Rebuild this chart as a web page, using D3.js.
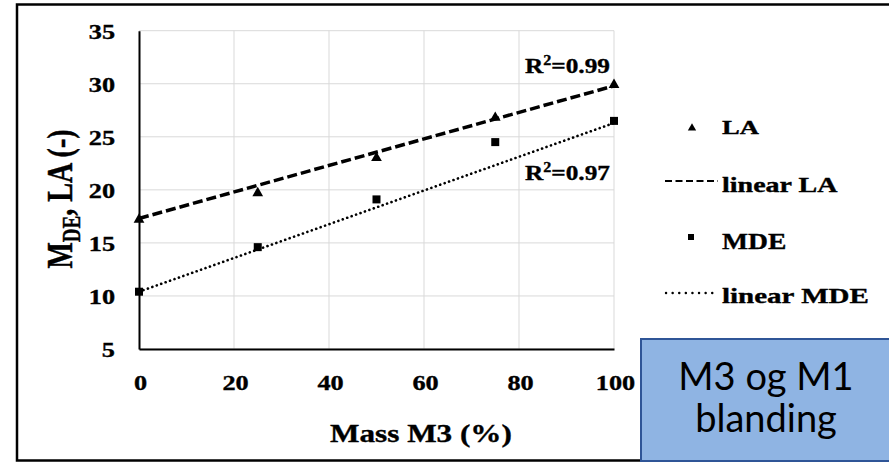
<!DOCTYPE html>
<html><head><meta charset="utf-8">
<script src="https://cdn.jsdelivr.net/npm/d3@7"></script>
<style>body{margin:0;background:#fff}svg{display:block}</style>
</head><body><svg id="c" width="889" height="462"></svg>
<script>
// ---- data ----
const massM3 = [0, 25, 50, 75, 100];
const LA = [17.2, 19.7, 23.0, 26.8, 29.9];
const MDE = [10.4, 14.6, 19.1, 24.5, 26.5];
const trendX = [0, 100];
const trendLA = [17.3, 29.8];
const trendMDE = [10.4, 26.3];
const xTicks = [0, 20, 40, 60, 80, 100];
const yTicks = [5, 10, 15, 20, 25, 30, 35];
const r2LA = "0.99";
const r2MDE = "0.97";
const legendLabels = ["LA", "linear LA", "MDE", "linear MDE"];
const xTitle = "Mass M3 (%)";
const boxLines = ["M3 og M1", "blanding"];

const svg = d3.select("#c");
const serif = "'Liberation Serif','Times New Roman',serif";

// outer frame
svg.append("rect").attr("x", 17).attr("y", 4.5).attr("width", 900).attr("height", 456)
  .attr("fill", "#fff").attr("stroke", "#000").attr("stroke-width", 2.5);

const x = d3.scaleLinear().domain([0, 100]).range([139, 614]);
const y = d3.scaleLinear().domain([5, 35]).range([349, 30.7]);

// gridlines
const grid = svg.append("g").attr("stroke", "#d9d9d9").attr("stroke-width", 1);
grid.selectAll(".h").data(yTicks).join("line")
  .attr("x1", x(0)).attr("x2", x(100)).attr("y1", d => y(d)).attr("y2", d => y(d));
grid.selectAll(".v").data(xTicks.filter(d => d > 0)).join("line")
  .attr("y1", y(5)).attr("y2", y(35)).attr("x1", d => x(d)).attr("x2", d => x(d));

function styleSerif(sel, size) {
  return sel.style("font-family", serif).style("font-weight", "bold").style("font-size", size + "px")
    .attr("fill", "#000").attr("stroke", "#000").attr("stroke-width", 0.35);
}

// axes
const yAx = svg.append("g").attr("transform", `translate(${x(0)},0)`)
  .call(d3.axisLeft(y).tickValues(yTicks).tickSize(0).tickSizeOuter(0).tickFormat(d3.format("d")));
const xAx = svg.append("g").attr("transform", `translate(0,${y(5)})`)
  .call(d3.axisBottom(x).tickValues(xTicks).tickSize(0).tickSizeOuter(0).tickFormat(d3.format("d")));
[yAx, xAx].forEach(a => a.select(".domain").attr("stroke", "#000").attr("stroke-width", 2));
styleSerif(yAx.selectAll("text").attr("x", 0).attr("y", 0).attr("dy", null)
  .attr("text-anchor", "end").attr("transform", `translate(-24,7.5) scale(1.25,1)`), 21);
styleSerif(xAx.selectAll("text").attr("x", 0).attr("y", 0).attr("dy", null)
  .attr("text-anchor", "middle").attr("transform", `translate(1,41) scale(1.25,1)`), 21);

function stext(px, py, sx, size, anchor) {
  return styleSerif(svg.append("text").attr("transform", `translate(${px},${py}) scale(${sx},1)`)
    .attr("text-anchor", anchor), size);
}

// axis titles
stext(421, 442, 1.2, 26, "middle").text(xTitle);
const yt = styleSerif(svg.append("text").attr("transform", `translate(72,199) scale(1.3,1) rotate(-90)`)
  .attr("text-anchor", "middle"), 28);
yt.append("tspan").text("M");
yt.append("tspan").text("DE").style("font-size", "19px").attr("dy", 6);
yt.append("tspan").text(",  LA (-)").attr("dy", -6);

// trend lines
const line = d3.line().x(d => x(d[0])).y(d => y(d[1]));
svg.append("path").datum(trendX.map((v, i) => [v, trendLA[i]])).attr("d", line)
  .attr("fill", "none").attr("stroke", "#000").attr("stroke-width", 3.5).attr("stroke-dasharray", "10,4");
svg.append("path").datum(trendX.map((v, i) => [v, trendMDE[i]])).attr("d", line)
  .attr("fill", "none").attr("stroke", "#000").attr("stroke-width", 2.6)
  .attr("stroke-dasharray", "0.1,4.6").attr("stroke-linecap", "round");

// markers
const tri = d3.symbol().type(d3.symbolTriangle).size(50);
svg.selectAll(".la").data(massM3).join("path")
  .attr("d", tri).attr("transform", (d, i) => `translate(${x(d)},${y(LA[i])})`).attr("fill", "#000");
svg.selectAll(".mde").data(massM3).join("rect")
  .attr("x", d => x(d) - 4).attr("y", (d, i) => y(MDE[i]) - 4).attr("width", 8).attr("height", 8).attr("fill", "#000");

// R² labels
function r2(px, py, val) {
  const t = stext(px, py, 1.15, 22, "start");
  t.append("tspan").text("R");
  t.append("tspan").text("2").style("font-size", "14px").attr("dy", -8);
  t.append("tspan").text("=" + val).attr("dy", 8);
}
r2(525, 73, r2LA);
r2(525, 180, r2MDE);

// legend
svg.append("path").attr("d", d3.symbol().type(d3.symbolTriangle).size(30))
  .attr("transform", `translate(692,128)`).attr("fill", "#000");
svg.append("line").attr("x1", 665).attr("x2", 718).attr("y1", 181).attr("y2", 181)
  .attr("stroke", "#000").attr("stroke-width", 2.2).attr("stroke-dasharray", "7,3.5");
svg.append("rect").attr("x", 688).attr("y", 234).attr("width", 6).attr("height", 6).attr("fill", "#000");
svg.append("line").attr("x1", 666).attr("x2", 718).attr("y1", 293).attr("y2", 293)
  .attr("stroke", "#000").attr("stroke-width", 2.4).attr("stroke-dasharray", "0.1,6.5").attr("stroke-linecap", "round");
const legBase = [134, 191.5, 248.5, 303];
const legSize = [19, 20, 24, 21];
const legScale = [1.4, 1.4, 1.15, 1.38];
legendLabels.forEach((l, i) => stext(722, legBase[i], legScale[i], legSize[i], "start").text(l));

// blue box
svg.append("rect").attr("x", 641).attr("y", 339).attr("width", 260).attr("height", 122)
  .attr("fill", "#8fb4e3").attr("stroke", "#2f5597").attr("stroke-width", 2);
boxLines.forEach((t, i) => svg.append("text").attr("x", 766).attr("y", [390, 432][i])
  .attr("text-anchor", "middle").style("font-family", "Lato, 'Open Sans', sans-serif")
  .style("font-size", "38px").attr("fill", "#000").text(t));
</script></body></html>
